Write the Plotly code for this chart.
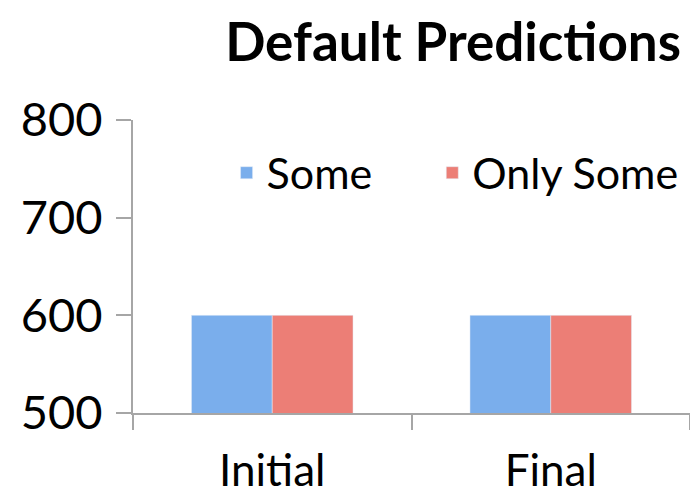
import plotly.graph_objects as go

categories = ["Initial", "Final"]
some_values = [600, 600]
only_some_values = [600, 600]
y_ticks = [500, 600, 700, 800]

FONT = "Lato, 'Open Sans', sans-serif"
AXIS = "#a6a6a6"
PAD = "\u00a0" * 5  # extra room between the two legend entries

fig = go.Figure()
fig.add_trace(go.Bar(x=categories, y=some_values, name="Some" + PAD, marker_color="#7aaeec"))
fig.add_trace(go.Bar(x=categories, y=only_some_values, name="Only Some", marker_color="#ec7e76"))

fig.update_layout(
    width=690,
    height=498,
    barmode="group",
    bargap=0.42,
    bargroupgap=0,
    plot_bgcolor="white",
    paper_bgcolor="white",
    margin=dict(l=133, r=0, t=120, b=85, autoexpand=False),
    font=dict(family=FONT, size=44, color="black"),
    title=dict(
        text="<b>Default Predictions</b>",
        font=dict(size=53, family=FONT),
        xref="container", x=0.987, xanchor="right",
        yref="container", y=0.915, yanchor="middle",
    ),
    legend=dict(
        orientation="h",
        x=0.168, xanchor="left",
        y=0.82, yanchor="middle",
        font=dict(size=43),
        bgcolor="rgba(0,0,0,0)",
    ),
)

fig.update_yaxes(
    range=[500, 800],
    tickvals=y_ticks,
    tickfont=dict(size=47),
    showgrid=False,
    zeroline=False,
    showline=True,
    linecolor=AXIS,
    linewidth=2,
    ticks="outside",
    ticklen=15,
    tickwidth=2,
    tickcolor=AXIS,
    ticklabelstandoff=4,
)
fig.update_xaxes(
    showgrid=False,
    showline=True,
    linecolor=AXIS,
    linewidth=2,
    ticks="outside",
    tickson="boundaries",
    ticklen=15,
    tickwidth=2,
    tickcolor=AXIS,
    ticklabelstandoff=18,
)

fig.write_html(
    "out.html",
    config={"displayModeBar": False},
    post_script="document.body.style.margin='0';",
)
